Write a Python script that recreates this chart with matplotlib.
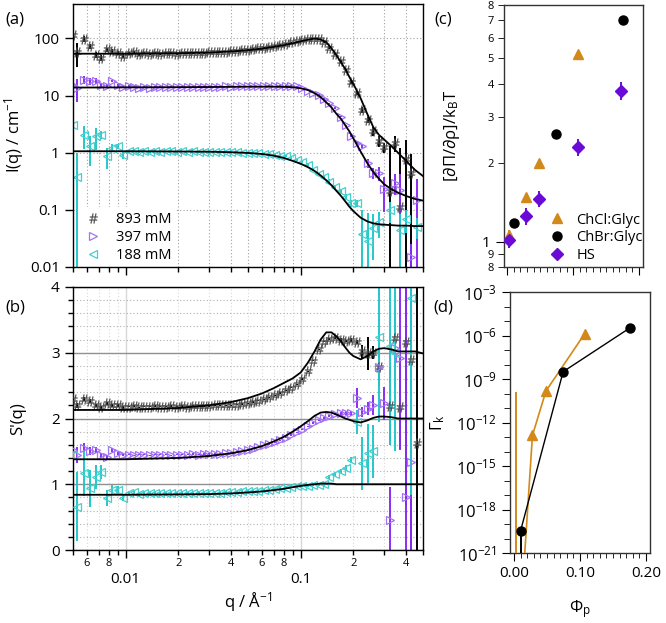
import numpy as np
import matplotlib
matplotlib.use('Agg')
import matplotlib.pyplot as plt
from matplotlib.lines import Line2D
from matplotlib.ticker import FixedLocator, NullFormatter, FuncFormatter, NullLocator

plt.rcParams['font.family'] = ['Open Sans', 'DejaVu Sans']
plt.rcParams['mathtext.fontset'] = 'custom'
plt.rcParams['mathtext.rm'] = 'Open Sans'
plt.rcParams['mathtext.it'] = 'Open Sans:italic'
plt.rcParams['mathtext.bf'] = 'Open Sans:bold'
plt.rcParams['axes.linewidth'] = 1.0

nan = np.nan

# ---------------- panel (a)/(b) data ----------------
q = [0.0050, 0.00527, 0.00575, 0.00623, 0.00674, 0.00727, 0.00782, 0.0084, 0.0090, 0.00965,
     0.0104, 0.0111, 0.0119, 0.0128, 0.0137, 0.0147, 0.0158, 0.0170, 0.0182, 0.0196,
     0.0210, 0.0226, 0.0243, 0.0261, 0.0280, 0.0301, 0.0323, 0.0347, 0.0373, 0.0401,
     0.0431, 0.0463, 0.0497, 0.0534, 0.0574, 0.0617, 0.0663, 0.0712, 0.0765, 0.0822,
     0.0883, 0.0949, 0.102, 0.110, 0.118, 0.127, 0.136, 0.146, 0.157, 0.169,
     0.181, 0.195, 0.209, 0.225, 0.241, 0.259, 0.279, 0.299, 0.322, 0.345,
     0.371, 0.399, 0.428, 0.460]

I_893 = [115, 57, 98, 73, 52, 46, 64, 60, 56, 50,
         55, 57, 53, 56, 54, 56, 54, 55, 56, 54,
         55, 56, 55, 56, 56, 57, 57, 58, 59, 60,
         61, 62, 63, 65, 67, 69, 71, 74, 77, 81,
         85, 89, 93, 97, 99, 97, 85, 68, 53, 40,
         28, 17, 11, 5.6, 3.8, 2.4, 1.6, 1.25, 0.21, 1.48,
         0.114, 0.78, 0.44, nan]
dI_893 = [35, 25, 10, 8, 6, 5, 5, 4, 4, 4,
          3, 3, 3, 3, 2, 2, 2, 2, 2, 2,
          2, 2, 2, 2, 2, 2, 2, 2, 2, 2,
          2, 2, 2, 2, 2, 2, 2, 2, 2, 2,
          2, 2, 2, 2, 2, 2, 2, 2, 1.5, 1.5,
          1.2, 1, 0.8, 0.6, 0.5, 0.4, 0.35, 0.25, 1.1, 0.45,
          1.1, 0.9, 0.5, nan]

I_397 = [15, 13.7, 19, 18, 18, 15, 14.5, 18, 15, 14,
         14.5, 14, 13.8, 14.2, 13.8, 14.1, 14.3, 13.9, 14.2, 14.0,
         14.3, 14.1, 14.2, 14.3, 14.2, 14.4, 14.3, 14.4, 14.5, 14.4,
         14.5, 14.5, 14.6, 14.5, 14.6, 14.6, 14.7, 14.6, 14.7, 14.7,
         14.7, 14.5, 13.5, 12.2, 11.2, 10.2, 8.6, 7.3, 6.0, 4.3,
         3.0, 2.0, 1.5, 1.3, 0.66, 0.44, 0.44, 0.23, nan, 0.30,
         0.22, nan, 0.015, 0.146]
dI_397 = [8, 6, 3, 2.5, 2, 1.5, 1.2, 1, 0.8, 0.7,
          0.6, 0.5, 0.5, 0.5, 0.4, 0.4, 0.4, 0.4, 0.4, 0.4,
          0.3, 0.3, 0.3, 0.3, 0.3, 0.3, 0.3, 0.3, 0.3, 0.3,
          0.3, 0.3, 0.3, 0.3, 0.3, 0.3, 0.3, 0.3, 0.3, 0.3,
          0.3, 0.3, 0.3, 0.3, 0.3, 0.3, 0.3, 0.2, 0.2, 0.15,
          0.1, 0.1, 0.1, 0.1, 0.12, 0.1, 0.12, 0.14, nan, 0.12,
          0.2, nan, 0.01, 0.2]

I_188 = [3.0, 0.38, 2.07, 1.29, 1.93, 2.07, 0.86, 1.21, 1.29, 0.92,
         1.05, 1.08, 1.02, 1.06, 1.04, 1.07, 1.03, 1.05, 1.06, 1.04,
         1.05, 1.04, 1.05, 1.03, 1.04, 1.03, 1.04, 1.02, 1.03, 1.01,
         1.02, 1.0, 1.0, 0.98, 0.97, 0.95, 0.94, 0.92, 0.89, 0.87,
         0.82, 0.76, 0.68, 0.62, 0.50, 0.42, 0.38, 0.31, 0.256, 0.21,
         0.17, 0.13, 0.13, 0.038, 0.029, 0.048, 0.062, nan, 0.10, nan,
         0.045, 0.07, nan, 0.051]
dI_188 = [2.0, 0.6, 0.9, 0.7, 0.8, 0.3, 0.35, 0.2, 0.15, 0.15,
          0.08, 0.06, 0.05, 0.05, 0.04, 0.04, 0.04, 0.04, 0.04, 0.04,
          0.03, 0.03, 0.03, 0.03, 0.03, 0.03, 0.03, 0.03, 0.03, 0.03,
          0.03, 0.03, 0.03, 0.03, 0.03, 0.03, 0.03, 0.03, 0.03, 0.03,
          0.03, 0.03, 0.03, 0.03, 0.03, 0.03, 0.03, 0.03, 0.02, 0.02,
          0.02, 0.02, 0.02, 0.06, 0.06, 0.035, 0.03, nan, 0.04, nan,
          0.04, 0.03, nan, 0.02]

S_893 = [2.3, 2.2, 2.3, 2.27, 2.2, 2.17, 2.23, 2.2, 2.2, 2.17,
         2.18, 2.19, 2.17, 2.18, 2.18, 2.19, 2.18, 2.18, 2.19, 2.18,
         2.19, 2.18, 2.19, 2.19, 2.19, 2.19, 2.2, 2.2, 2.2, 2.2,
         2.21, 2.22, 2.23, 2.25, 2.27, 2.29, 2.32, 2.35, 2.39, 2.43,
         2.47, 2.52, 2.6, 2.72, 2.88, 3.05, 3.17, 3.21, 3.23, 3.2,
         3.18, 3.2, 3.17, 3.02, 2.99, 3.0, 2.79, nan, 2.19, 3.22,
         2.18, 3.17, 2.89, 1.62]
dS_893 = [0.08, 0.04, 0.03, 0.03, 0.02, 0.02, 0.02, 0.02, 0.02, 0.02,
          0.01, 0.01, 0.01, 0.01, 0.01, 0.01, 0.01, 0.01, 0.01, 0.01,
          0.01, 0.01, 0.01, 0.01, 0.01, 0.01, 0.01, 0.01, 0.01, 0.01,
          0.01, 0.01, 0.01, 0.01, 0.01, 0.01, 0.01, 0.01, 0.01, 0.01,
          0.01, 0.01, 0.01, 0.01, 0.01, 0.01, 0.01, 0.01, 0.02, 0.02,
          0.02, 0.03, 0.03, 0.1, 0.25, 0.1, 0.3, nan, 0.6, 0.25,
          0.65, 2.5, 3.0, 3.0]

S_397 = [1.52, 1.45, 1.55, 1.5, 1.52, 1.44, 1.42, 1.52, 1.47, 1.45,
         1.45, 1.44, 1.45, 1.45, 1.44, 1.45, 1.45, 1.45, 1.44, 1.45,
         1.45, 1.45, 1.46, 1.45, 1.46, 1.46, 1.46, 1.46, 1.47, 1.48,
         1.49, 1.5, 1.52, 1.54, 1.56, 1.59, 1.61, 1.64, 1.67, 1.71,
         1.75, 1.79, 1.83, 1.88, 1.93, 1.97, 2.01, 2.04, 2.07, 2.08,
         2.08, 2.08, 2.31, 2.1, 2.15, 2.2, 2.79, 2.23, 0.46, 3.07,
         2.92, 0.81, 1.34, nan]
dS_397 = [0.18, 0.12, 0.08, 0.06, 0.05, 0.04, 0.03, 0.03, 0.02, 0.02,
          0.01, 0.01, 0.01, 0.01, 0.01, 0.01, 0.01, 0.01, 0.01, 0.01,
          0.01, 0.01, 0.01, 0.01, 0.01, 0.01, 0.01, 0.01, 0.01, 0.01,
          0.01, 0.01, 0.01, 0.01, 0.01, 0.01, 0.01, 0.01, 0.01, 0.01,
          0.01, 0.01, 0.01, 0.01, 0.01, 0.01, 0.01, 0.01, 0.02, 0.02,
          0.03, 0.04, 0.15, 0.08, 0.1, 0.15, 0.1, 0.25, 0.5, 0.6,
          1.4, 4.0, 4.0, nan]

S_188 = [1.45, 0.66, 1.17, 0.94, 1.11, 1.19, 0.79, 0.91, 0.91, 0.79,
         0.86, 0.88, 0.85, 0.87, 0.86, 0.87, 0.86, 0.86, 0.87, 0.86,
         0.87, 0.86, 0.86, 0.87, 0.86, 0.87, 0.87, 0.87, 0.88, 0.88,
         0.88, 0.89, 0.89, 0.9, 0.9, 0.91, 0.92, 0.93, 0.94, 0.95,
         0.96, 0.97, 0.98, 0.98, 0.99, 0.99, 1.0, 1.11, 1.15, 1.2,
         1.25, 1.37, 1.95, 1.32, 1.47, 1.5, 3.24, nan, 3.1, 3.0,
         nan, nan, 3.83, nan]
dS_188 = [0.64, 0.52, 0.35, 0.28, 0.18, 0.11, 0.12, 0.08, 0.06, 0.05,
          0.03, 0.03, 0.03, 0.02, 0.02, 0.02, 0.02, 0.02, 0.02, 0.02,
          0.02, 0.02, 0.02, 0.02, 0.02, 0.02, 0.02, 0.02, 0.02, 0.02,
          0.02, 0.02, 0.02, 0.02, 0.02, 0.02, 0.02, 0.02, 0.02, 0.02,
          0.02, 0.02, 0.02, 0.02, 0.02, 0.02, 0.02, 0.03, 0.03, 0.03,
          0.04, 0.05, 0.18, 0.4, 0.45, 0.4, 1.3, nan, 1.5, 1.5,
          nan, nan, 3.0, nan]

# fitted curves
q_fit = [0.005, 0.01, 0.02, 0.03, 0.04, 0.05, 0.06, 0.07, 0.08, 0.09,
         0.1, 0.11, 0.12, 0.13, 0.14, 0.15, 0.16, 0.17, 0.18, 0.19,
         0.2, 0.22, 0.24, 0.26, 0.28, 0.3, 0.33, 0.36, 0.4, 0.45, 0.5]
fitI_893 = [54, 54, 55, 56.5, 59, 62, 66, 71, 76, 82, 89, 95, 99, 96, 86, 67, 51, 38, 29, 21,
            16, 9, 4.8, 2.8, 2.05, 1.7, 1.3, 1.0, 0.72, 0.5, 0.39]
fitI_397 = [13.8, 13.9, 14.0, 14.1, 14.2, 14.3, 14.3, 14.3, 14.2, 14.0, 13.4, 12.5, 11.0, 9.4,
            7.6, 6.2, 4.8, 3.9, 3.0, 2.35, 1.78, 1.05, 0.66, 0.46, 0.35, 0.28, 0.23, 0.2,
            0.175, 0.155, 0.145]
fitI_188 = [1.06, 1.06, 1.05, 1.04, 1.02, 0.99, 0.95, 0.89, 0.81, 0.72, 0.64, 0.56, 0.48, 0.40,
            0.33, 0.27, 0.215, 0.175, 0.14, 0.113, 0.095, 0.073, 0.063, 0.058, 0.056, 0.055,
            0.054, 0.053, 0.053, 0.052, 0.052]
fitS_893 = [2.13, 2.13, 2.16, 2.2, 2.25, 2.31, 2.38, 2.46, 2.54, 2.61, 2.7, 2.85, 3.02, 3.2,
            3.31, 3.31, 3.25, 3.17, 3.08, 3.0, 2.95, 2.9, 2.95, 3.02, 3.06, 3.07, 3.05, 3.02,
            3.02, 3.02, 2.99]
fitS_397 = [1.38, 1.38, 1.4, 1.43, 1.47, 1.52, 1.58, 1.65, 1.72, 1.8, 1.88, 1.96, 2.04, 2.09,
            2.1, 2.09, 2.06, 2.03, 2.0, 1.98, 1.96, 1.94, 1.97, 2.01, 2.03, 2.03, 2.02, 2.0,
            2.0, 2.0, 2.0]
fitS_188 = [0.84, 0.84, 0.845, 0.85, 0.86, 0.875, 0.89, 0.91, 0.93, 0.955, 0.975, 0.99, 1.0,
            1.01, 1.01, 1.01, 1.0, 1.0, 1.0, 1.0, 1.0, 1.0, 1.0, 1.0, 1.0, 1.0, 1.0, 1.0, 1.0,
            1.0, 1.0]

series_labels = ['893 mM', '397 mM', '188 mM']

# ---------------- panel (c)/(d) data ----------------
phi_ChCl = [0.003, 0.028, 0.0485, 0.107]
dPi_ChCl = [1.06, 1.48, 2.0, 5.2]
ddPi_ChCl = [0.05, 0.0, 0.0, 0.0]
phi_ChBr = [0.0101, 0.0745, 0.175]
dPi_ChBr = [1.18, 2.57, 7.03]
phi_HS = [0.003, 0.028, 0.0485, 0.107, 0.172]
dPi_HS = [1.01, 1.25, 1.46, 2.29, 3.77]
ddPi_HS = [0.065, 0.09, 0.1, 0.17, 0.3]
group_labels = ['ChCl:Glyc', 'ChBr:Glyc', 'HS']

gamma_ChCl = [5e-31, 1.3e-13, 1.5e-10, 1.3e-6]
gamma_ChCl_up = [1.3e-10, 0.0, 0.0, 0.0]
gamma_ChBr = [3.5e-20, 3.2e-9, 3.2e-6]
gamma_ChBr_lo = [1e-19, 0.0, 0.0]

# ---------------- style ----------------
C_BLK = '#4a4a4a'
C_PUR_M = '#a274f4'
C_PUR_E = '#8a2cf2'
C_CYA_M = '#45cfcf'
C_CYA_E = '#22c8cc'
C_ORG = '#d2891a'
C_HS = '#6a0ad6'

fig = plt.figure(figsize=(6.66, 6.23), dpi=100)
W, H = 666.0, 623.0
def box(l, r, t, b):
    return [l / W, 1 - b / H, (r - l) / W, (b - t) / H]

axA = fig.add_axes(box(73, 423, 4, 267))
axB = fig.add_axes(box(73, 423, 287, 550))
axC = fig.add_axes(box(504, 643, 5, 267))
axD = fig.add_axes(box(510, 650, 292, 553))

def plot_series(ax, y, dy, fit, label_on):
    ax.errorbar(q, y[0], yerr=dy[0], fmt='none', ecolor='black', elinewidth=1.4, zorder=2)
    ax.errorbar(q, y[1], yerr=dy[1], fmt='none', ecolor=C_PUR_E, elinewidth=1.4, zorder=2)
    ax.errorbar(q, y[2], yerr=dy[2], fmt='none', ecolor=C_CYA_E, elinewidth=1.4, zorder=2)
    ax.plot(q, y[0], ls='none', marker='$\\#$', ms=7, color=C_BLK, mew=0.2,
            label=series_labels[0] if label_on else None, zorder=3)
    ax.plot(q, y[1], ls='none', marker='>', ms=5.5, mfc='none', mec=C_PUR_M, mew=0.9,
            label=series_labels[1] if label_on else None, zorder=3)
    ax.plot(q, y[2], ls='none', marker='<', ms=5.5, mfc='none', mec=C_CYA_M, mew=0.9,
            label=series_labels[2] if label_on else None, zorder=3)
    for f in fit:
        ax.plot(q_fit, f, color='black', lw=1.3, zorder=4)

minor_q = [0.005, 0.006, 0.007, 0.008, 0.009, 0.02, 0.03, 0.04, 0.05, 0.06, 0.07, 0.08, 0.09,
           0.2, 0.3, 0.4, 0.5]
major_q = [0.01, 0.1]

for ax in (axA, axB):
    ax.set_xscale('log')
    ax.set_xlim(0.005, 0.5)
    ax.xaxis.set_major_locator(FixedLocator(major_q))
    ax.xaxis.set_minor_locator(FixedLocator(minor_q))
    ax.tick_params(axis='both', which='major', direction='out', length=6, width=1, labelsize=11)
    ax.tick_params(axis='both', which='minor', direction='out', length=3.5, width=1)

# panel (a)
axA.set_yscale('log')
axA.set_ylim(0.01, 400)
plot_series(axA, [I_893, I_397, I_188], [dI_893, dI_397, dI_188],
            [fitI_893, fitI_397, fitI_188], True)
axA.yaxis.set_major_locator(FixedLocator([0.01, 0.1, 1, 10, 100]))
axA.yaxis.set_minor_locator(NullLocator())
axA.yaxis.set_major_formatter(FuncFormatter(lambda v, p: ('%g' % v)))
axA.xaxis.set_major_formatter(NullFormatter())
axA.xaxis.set_minor_formatter(NullFormatter())
axA.grid(True, which='both', axis='x', color='#a0a0a0', ls=(0, (1, 2)), lw=0.8, zorder=0)
axA.grid(True, which='major', axis='y', color='#a0a0a0', ls=(0, (1, 2)), lw=0.8, zorder=0)
axA.set_ylabel('I(q) / cm$^{-1}$', fontsize=12)
axA.yaxis.set_label_coords(-0.135, 0.5)
leg = axA.legend(loc='lower left', bbox_to_anchor=(0.02, 0.0), frameon=True, fontsize=10.5,
                 handlelength=1.2, handletextpad=1.0, labelspacing=0.2, borderpad=0.3,
                 borderaxespad=0.0, fancybox=False)
leg.get_frame().set_facecolor('white')
leg.get_frame().set_edgecolor('none')
leg.get_frame().set_alpha(1)
leg.set_zorder(5)
for s in axA.spines.values():
    s.set_zorder(6)

# panel (b)
axB.set_ylim(0, 4)
plot_series(axB, [S_893, S_397, S_188], [dS_893, dS_397, dS_188],
            [fitS_893, fitS_397, fitS_188], False)
axB.yaxis.set_major_locator(FixedLocator([0, 1, 2, 3, 4]))
axB.yaxis.set_minor_locator(FixedLocator([0.2, 0.4, 0.6, 0.8, 1.2, 1.4, 1.6, 1.8, 2.2, 2.4,
                                          2.6, 2.8, 3.2, 3.4, 3.6, 3.8]))
axB.xaxis.set_major_formatter(FuncFormatter(lambda v, p: '%g' % v))
minor_lab = {0.006: '6', 0.008: '8', 0.02: '2', 0.04: '4', 0.06: '6', 0.08: '8', 0.2: '2', 0.4: '4'}
def minfmt(v, p):
    for k, s in minor_lab.items():
        if abs(v - k) < 1e-6:
            return s
    return ''
axB.xaxis.set_minor_formatter(FuncFormatter(minfmt))
axB.tick_params(axis='x', which='minor', labelsize=8, pad=2)
axB.tick_params(axis='x', which='major', labelsize=11, pad=10)
axB.grid(True, which='major', axis='y', color='#909090', ls='-', lw=1.0, zorder=0)
axB.grid(True, which='minor', axis='y', color='#b0b0b0', ls=(0, (1, 2)), lw=0.8, zorder=0)
axB.grid(True, which='major', axis='x', color='#d8d8d8', ls='-', lw=1.0, zorder=0)
axB.grid(True, which='minor', axis='x', color='#d8d8d8', ls=(0, (1, 2)), lw=0.8, zorder=0)
axB.set_ylabel("S'(q)", fontsize=12)
axB.yaxis.set_label_coords(-0.135, 0.5)
axB.set_xlabel('q / Å$^{-1}$', fontsize=12, labelpad=2)

# panel (c)
axC.set_yscale('log')
axC.set_ylim(0.8, 8)
axC.set_xlim(-0.005, 0.206)
axC.errorbar(phi_ChCl, dPi_ChCl, yerr=ddPi_ChCl, fmt='^', color=C_ORG, ms=7.5, elinewidth=1.4,
             mec=C_ORG, zorder=3)
axC.plot(phi_ChBr, dPi_ChBr, 'o', color='black', ms=6.5, zorder=3)
axC.errorbar(phi_HS, dPi_HS, yerr=ddPi_HS, fmt='D', color=C_HS, ms=6.5, elinewidth=1.4,
             zorder=3)
handles_c = [Line2D([], [], ls='none', marker='^', color=C_ORG, ms=7.5),
             Line2D([], [], ls='none', marker='o', color='black', ms=6.5),
             Line2D([], [], ls='none', marker='D', color=C_HS, ms=6.5)]
axC.yaxis.set_major_locator(FixedLocator([1]))
axC.yaxis.set_minor_locator(FixedLocator([0.8, 0.9, 2, 3, 4, 5, 6, 7, 8]))
axC.yaxis.set_major_formatter(FuncFormatter(lambda v, p: '1'))
axC.yaxis.set_minor_formatter(FuncFormatter(lambda v, p: str(int(round(v * 10))) if v < 1 else str(int(round(v)))))
axC.tick_params(axis='y', which='major', labelsize=11, length=6)
axC.tick_params(axis='y', which='minor', labelsize=8, length=4)
axC.set_ylabel('[∂Π/∂ρ]/k$_\\mathrm{B}$T', fontsize=12)
axC.yaxis.set_label_coords(-0.30, 0.5)
legc = axC.legend(handles_c, group_labels, loc='lower right', bbox_to_anchor=(1.07, -0.025),
                  frameon=False, fontsize=10.5, handlelength=1.0, handletextpad=0.8,
                  labelspacing=0.2, borderaxespad=0.3)

# panel (d)
axD.set_yscale('log')
axD.set_ylim(1e-21, 1e-3)
axD.set_xlim(-0.006, 0.206)
axD.errorbar(phi_ChCl, gamma_ChCl, yerr=[[0, 0, 0, 0], gamma_ChCl_up], fmt='-^', color=C_ORG,
             ms=7, lw=1.2, elinewidth=1.4, zorder=3)
axD.errorbar(phi_ChBr, gamma_ChBr, yerr=[gamma_ChBr_lo, [0, 0, 0]], fmt='-o', color='black',
             ms=6.5, lw=1.0, elinewidth=1.4, zorder=4)
dec_major = [1e-21, 1e-18, 1e-15, 1e-12, 1e-9, 1e-6, 1e-3]
dec_minor = [10.0 ** k for k in range(-21, -2)]
axD.yaxis.set_major_locator(FixedLocator(dec_major))
axD.yaxis.set_minor_locator(FixedLocator(dec_minor))
axD.yaxis.set_major_formatter(FuncFormatter(lambda v, p: '$10^{%d}$' % int(round(np.log10(v)))))
axD.yaxis.set_minor_formatter(NullFormatter())
axD.tick_params(axis='y', which='major', labelsize=12, length=6)
axD.tick_params(axis='y', which='minor', length=4)
axD.set_ylabel('Γ$_\\mathrm{k}$', fontsize=12, labelpad=0)
axD.yaxis.set_label_coords(-0.45, 0.5)
axD.set_xlabel('Φ$_\\mathrm{p}$', fontsize=12, labelpad=12)

xmaj = [0.0, 0.1, 0.2]
xmin = [k / 100.0 for k in range(0, 21)]
for ax in (axC, axD):
    ax.xaxis.set_major_locator(FixedLocator(xmaj))
    ax.xaxis.set_minor_locator(FixedLocator(xmin))
    ax.tick_params(axis='x', which='major', length=6, labelsize=11)
    ax.tick_params(axis='x', which='minor', length=3.5)
    for s in ax.spines.values():
        s.set_color('#333333')
axC.xaxis.set_major_formatter(NullFormatter())
axD.xaxis.set_major_formatter(FuncFormatter(lambda v, p: '%.2f' % v))

# panel letters
fig.text(15 / W, 1 - 20 / H, '(a)', fontsize=12, ha='center', va='center')
fig.text(15 / W, 1 - 308 / H, '(b)', fontsize=12, ha='center', va='center')
fig.text(443 / W, 1 - 20 / H, '(c)', fontsize=12, ha='center', va='center')
fig.text(443 / W, 1 - 308 / H, '(d)', fontsize=12, ha='center', va='center')

fig.savefig('out.png', dpi=100)
